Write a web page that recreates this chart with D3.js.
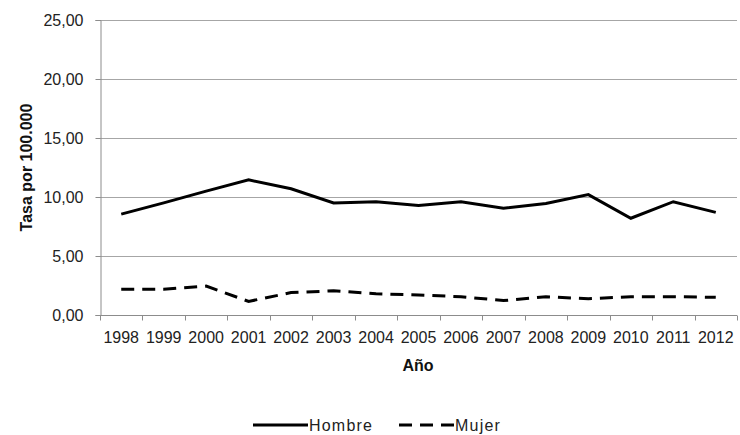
<!DOCTYPE html>
<html><head><meta charset="utf-8">
<script src="https://cdn.jsdelivr.net/npm/d3@7"></script>
<style>body{margin:0;background:#fff}svg{display:block}text{font-family:"Liberation Sans",Arial,sans-serif}</style>
</head><body><svg id="c" width="740" height="435"></svg>
<script>
const years = ["1998","1999","2000","2001","2002","2003","2004","2005","2006","2007","2008","2009","2010","2011","2012"];
const hombre = [8.55,9.5,10.5,11.45,10.7,9.5,9.6,9.28,9.6,9.05,9.45,10.2,8.2,9.6,8.7];
const mujer = [2.18,2.18,2.45,1.15,1.9,2.05,1.8,1.7,1.55,1.22,1.55,1.38,1.55,1.55,1.5];
const yTicks = [0,5,10,15,20,25];
const seriesNames = ["Hombre","Mujer"];

(function(){
const svg = d3.select("#c");
const left=100, right=737, topY=20, bottom=315;
const x = d3.scaleBand().domain(years).range([left,right]);
const y = d3.scaleLinear().domain([0,25]).range([bottom,topY]);
const fmt = v => d3.format(".2f")(v).replace(".",",");

// gridlines
svg.append("g").selectAll("line").data(yTicks.filter(t=>t>0)).join("line")
  .attr("x1",left).attr("x2",right).attr("y1",d=>Math.round(y(d))+0.5).attr("y2",d=>Math.round(y(d))+0.5)
  .attr("stroke","#a6a6a6").attr("stroke-width",1);

// y axis
const ya = svg.append("g").attr("transform",`translate(${left+0.5},0)`)
  .call(d3.axisLeft(y).tickValues(yTicks).tickFormat(fmt).tickSizeOuter(0).tickSize(5).tickPadding(12));
ya.select(".domain").attr("stroke","#8c8c8c");
ya.selectAll(".tick line").attr("stroke","#8c8c8c");
ya.selectAll("text").attr("font-size",16).attr("fill","#222").attr("font-family","Liberation Sans, Arial, sans-serif");

// x axis
const xa = svg.append("g").attr("transform",`translate(0,${bottom+0.5})`);
xa.append("line").attr("x1",left).attr("x2",right).attr("stroke","#8c8c8c");
const bounds = years.map(d=>x(d)).concat([right]);
xa.selectAll("line.t").data(bounds).join("line").attr("class","t")
  .attr("x1",d=>Math.round(d)+0.5).attr("x2",d=>Math.round(d)+0.5).attr("y1",0).attr("y2",5).attr("stroke","#8c8c8c");
xa.selectAll("text").data(years).join("text")
  .attr("x",d=>x(d)+x.bandwidth()/2).attr("y",27).attr("text-anchor","middle")
  .attr("font-size",16).attr("fill","#222").text(d=>d);

// lines
const line = d3.line().x((d,i)=>x(years[i])+x.bandwidth()/2).y(d=>y(d));
svg.append("path").datum(hombre).attr("d",line).attr("fill","none").attr("stroke","#000").attr("stroke-width",3);
svg.append("path").datum(mujer).attr("d",line).attr("fill","none").attr("stroke","#000").attr("stroke-width",3).attr("stroke-dasharray","13,8");

// axis titles
svg.append("text").attr("transform",`translate(32,${(topY+bottom)/2}) rotate(-90)`).attr("text-anchor","middle")
  .attr("font-size",16).attr("font-weight","bold").attr("fill","#111").text("Tasa por 100.000");
svg.append("text").attr("x",418).attr("y",371).attr("text-anchor","middle")
  .attr("font-size",16).attr("font-weight","bold").attr("fill","#111").text("Año");

// legend
const lg = svg.append("g");
const items = [{name:seriesNames[0],x:253,dash:null},{name:seriesNames[1],x:399,dash:"13,8"}];
items.forEach(it=>{
  lg.append("line").attr("x1",it.x).attr("x2",it.x+55).attr("y1",425).attr("y2",425)
    .attr("stroke","#000").attr("stroke-width",3).attr("stroke-dasharray",it.dash);
  lg.append("text").attr("x",it.x+56).attr("y",431).attr("font-size",16).attr("letter-spacing",1.2).attr("fill","#222").text(it.name);
});
})();
</script></body></html>
